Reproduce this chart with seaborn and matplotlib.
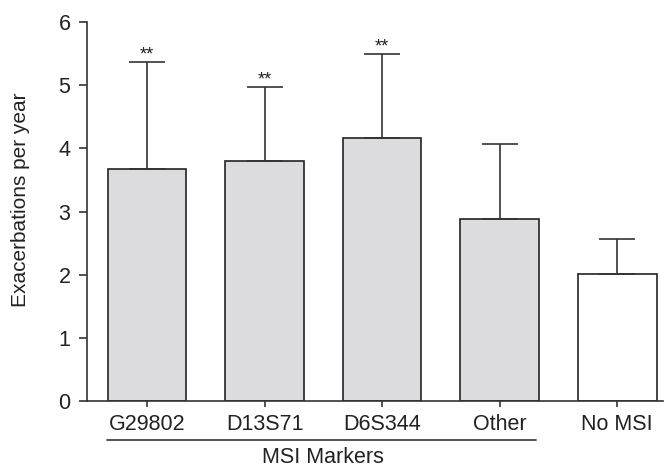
import pandas as pd
import seaborn as sns
import matplotlib.pyplot as plt
import matplotlib.transforms as mtransforms

# Data
markers = ["G29802", "D13S71", "D6S344", "Other", "No MSI"]
means = [3.68, 3.80, 4.16, 2.88, 2.01]
sd_upper = [1.68, 1.17, 1.33, 1.19, 0.55]
significant = ["**", "**", "**", "", ""]

df = pd.DataFrame({"Marker": markers, "Rate": means})

sns.set_style("ticks")
plt.rcParams["font.family"] = ["Liberation Sans", "DejaVu Sans"]

fig = plt.figure(figsize=(6.65, 4.68), dpi=100)
ax = fig.add_axes([0.131, 0.143, 0.866, 0.81])

fill = ["#dcdcde"] * 4 + ["white"]
sns.barplot(data=df, x="Marker", y="Rate", hue="Marker", palette=fill,
            legend=False, width=0.67, edgecolor="#222222", linewidth=1.2,
            errorbar=None, ax=ax)

# upper-only error bars
pos = list(range(len(markers)))
ax.errorbar(pos, means, yerr=[[0] * len(means), sd_upper], fmt="none",
            ecolor="#333333", elinewidth=1.2, capsize=13.3, capthick=1.2, zorder=1)

for x, m, s, star in zip(pos, means, sd_upper, significant):
    if star:
        ax.annotate(star, (x, m + s), xytext=(0, -1), textcoords="offset points",
                    ha="center", va="bottom", fontsize=13, color="#222222")

ax.set_ylim(0, 6)
ax.set_xlim(-0.51, 4.39)
ax.set_yticks(range(7))
ax.set_xlabel("")
ax.set_ylabel("Exacerbations per year", fontsize=15, color="#222222")
ax.yaxis.set_label_coords(-0.100, 0.53)
ax.tick_params(axis="y", labelsize=15.5, length=6, width=1.2, color="#333333",
               labelcolor="#222222", pad=6)
ax.tick_params(axis="x", labelsize=15.5, length=4, width=1.2, color="#333333",
               labelcolor="#222222", pad=5)
for side in ["left", "bottom"]:
    ax.spines[side].set_color("#333333")
    ax.spines[side].set_linewidth(1.2)
sns.despine(ax=ax)

# group bracket under the MSI marker labels
trans = mtransforms.blended_transform_factory(ax.transData, ax.transAxes)
ax.plot([-0.34, 3.31], [-0.103, -0.103], color="#333333", lw=1.2,
        transform=trans, clip_on=False)
ax.text(1.5, -0.148, "MSI Markers", transform=trans, ha="center", va="center",
        fontsize=15.5, color="#222222")

fig.savefig("out.png", dpi=100)
